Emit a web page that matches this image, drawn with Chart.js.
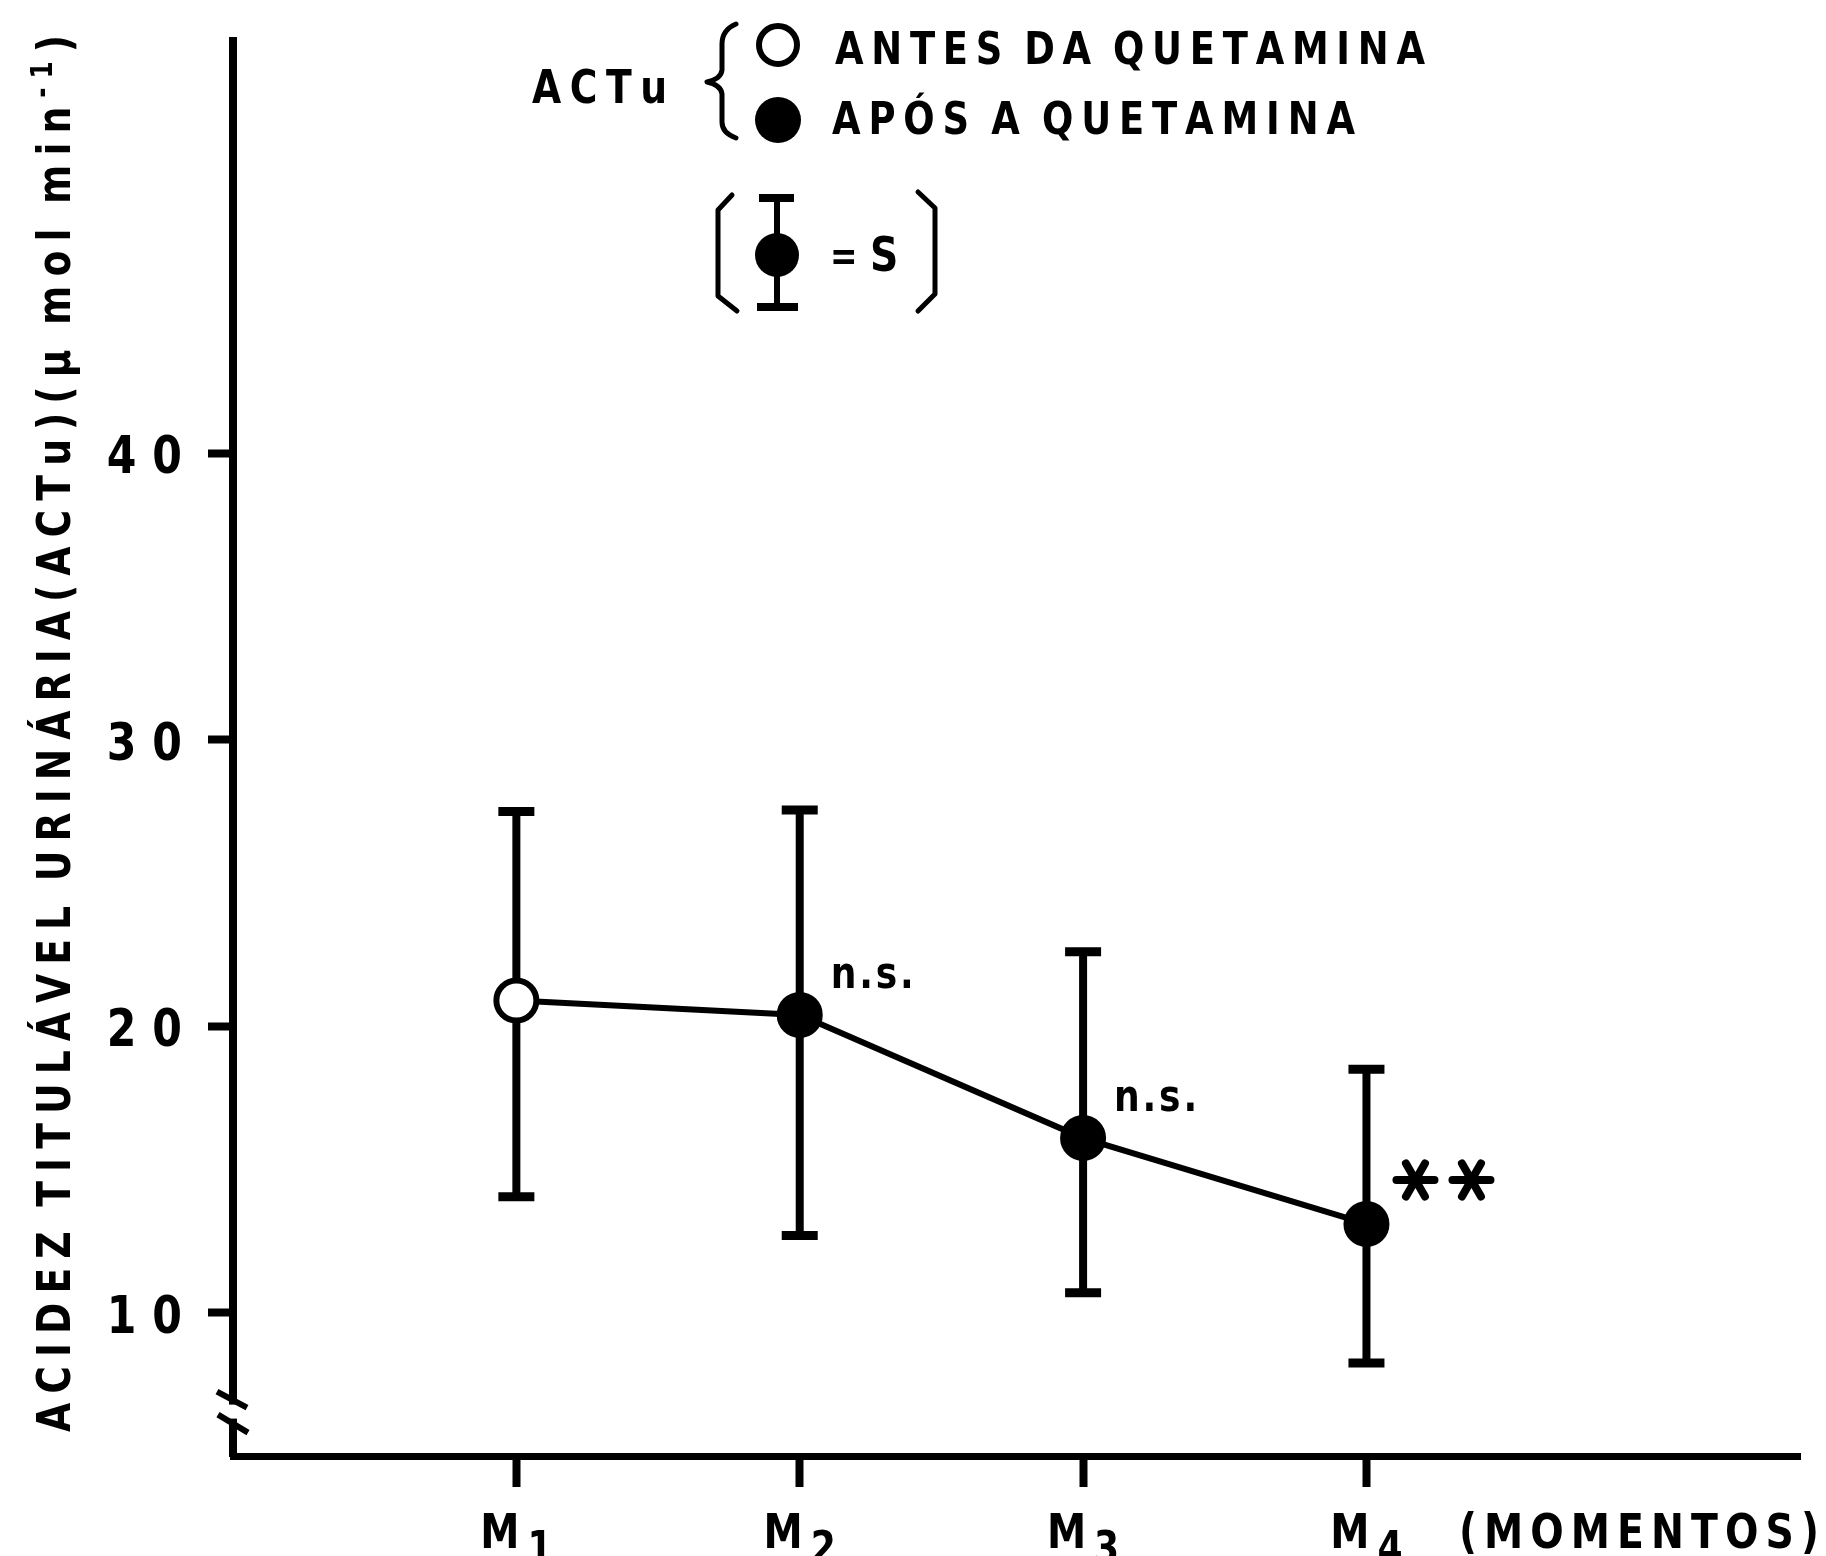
<!DOCTYPE html>
<html>
<head>
<meta charset="utf-8">
<title>ACTu</title>
<script src="https://cdn.jsdelivr.net/npm/chart.js"></script>
<style>
    html, body { margin: 0; padding: 0; background: #fff; }
    #wrap { width: 1826px; height: 1556px; }
</style>
</head>
<body>
<div id="wrap"><canvas id="actuChart" width="1826" height="1556"></canvas></div>
<script>
// --- data: ACTu (µmol/min) at the four moments ---
const moments = [1, 2, 3, 4];
const momentNumbers = ['1', '2', '3', '4'];
const actuMean = [20.9, 20.4, 16.1, 13.1];
const actuUpper = [27.5, 27.55, 22.6, 18.5];   // top of the S bar
const actuLower = [14.05, 12.7, 10.7, 8.25];   // bottom of the S bar
const afterKetamine = [false, true, true, true];
const notes = ['', 'n.s.', 'n.s.', '**'];
const yTickValues = [10, 20, 30, 40];

const FONT = '"DejaVu Sans", sans-serif';
const NARROW = 0.82;   // horizontal squeeze for the lettering

// draws runs of narrowed text char by char, spread out over a given width
function spacedText(ctx, runs, x, y, width) {
    const chars = [];
    runs.forEach(r => {
        ctx.font = `bold ${r.size}px ${FONT}`;
        const font = ctx.font;
        for (const ch of r.text) {
            let w = ctx.measureText(ch).width * NARROW;
            if (ch === ' ') w *= 0.5;
            chars.push({ ch, font, w, rise: r.rise || 0 });
        }
    });
    const natural = chars.reduce((s, c) => s + c.w, 0);
    const gap = chars.length > 1 ? (width - natural) / (chars.length - 1) : 0;
    let cx = x;
    chars.forEach(c => {
        ctx.save();
        ctx.font = c.font;
        ctx.translate(cx, y - c.rise);
        ctx.scale(NARROW, 1);
        ctx.fillText(c.ch, 0, 0);
        ctx.restore();
        cx += c.w + gap;
    });
}

function narrowWidth(ctx, text, size) {
    ctx.font = `bold ${size}px ${FONT}`;
    return ctx.measureText(text).width * NARROW;
}

function asterisk(ctx, cx, cy, r) {
    ctx.beginPath();
    for (let k = 0; k < 3; k++) {
        const a = k * Math.PI / 3;
        ctx.moveTo(cx - r * Math.cos(a), cy - r * Math.sin(a));
        ctx.lineTo(cx + r * Math.cos(a), cy + r * Math.sin(a));
    }
    ctx.stroke();
}

// S bars, drawn under the points
const errorBars = {
    id: 'errorBars',
    beforeDatasetsDraw(chart) {
        const { ctx, scales: { x, y } } = chart;
        ctx.save();
        ctx.strokeStyle = '#000';
        ctx.lineCap = 'butt';
        moments.forEach((m, i) => {
            const px = x.getPixelForValue(m);
            const top = y.getPixelForValue(actuUpper[i]);
            const bot = y.getPixelForValue(actuLower[i]);
            ctx.lineWidth = 8;
            ctx.beginPath();
            ctx.moveTo(px, top);
            ctx.lineTo(px, bot);
            ctx.stroke();
            ctx.lineWidth = 9;
            ctx.beginPath();
            ctx.moveTo(px - 18, top); ctx.lineTo(px + 18, top);
            ctx.moveTo(px - 18, bot); ctx.lineTo(px + 18, bot);
            ctx.stroke();
        });
        ctx.restore();
    }
};

// axis labels, significance marks, axis break and the key
const decorations = {
    id: 'decorations',
    afterDraw(chart) {
        const { ctx, chartArea, scales: { x, y } } = chart;
        ctx.save();
        ctx.fillStyle = '#000';
        ctx.strokeStyle = '#000';
        ctx.lineJoin = 'round';
        ctx.lineCap = 'round';
        ctx.textBaseline = 'alphabetic';

        // y tick labels, right edge fixed
        yTickValues.forEach(v => {
            const py = y.getPixelForValue(v);
            const txt = String(v);
            const w = [...txt].reduce((s, ch) => s + narrowWidth(ctx, ch, 52), 0) + 16 * (txt.length - 1);
            spacedText(ctx, [{ text: txt, size: 52 }], 182 - w, py + 20, w);
        });

        // x tick labels M with subscript
        moments.forEach((m, i) => {
            const px = x.getPixelForValue(m);
            const mw = narrowWidth(ctx, 'M', 48);
            const dw = narrowWidth(ctx, momentNumbers[i], 44);
            const left = px - (mw + 8 + dw) / 2;
            spacedText(ctx, [{ text: 'M', size: 48 }], left, 1548, mw);
            spacedText(ctx, [{ text: momentNumbers[i], size: 44 }], left + mw + 8, 1563, dw);
        });
        spacedText(ctx, [{ text: '(MOMENTOS)', size: 48 }], 1459, 1548, 360);

        // y axis title, rotated
        ctx.save();
        ctx.translate(70, 1432);
        ctx.rotate(-Math.PI / 2);
        spacedText(ctx, [
            { text: 'ACIDEZ TITULÁVEL URINÁRIA(ACTu)(µ mol min', size: 46 },
            { text: '-1', size: 30, rise: 18 },
            { text: ')', size: 46 }
        ], 0, 0, 1397);
        ctx.restore();

        // significance notes next to the points
        const meta = chart.getDatasetMeta(0);
        notes.forEach((n, i) => {
            if (!n) return;
            const pt = meta.data[i];
            if (n === '**') {
                ctx.lineWidth = 8;
                asterisk(ctx, pt.x + 49, pt.y - 44, 19);
                asterisk(ctx, pt.x + 105, pt.y - 44, 19);
            } else {
                spacedText(ctx, [{ text: n, size: 44 }], pt.x + 31, pt.y - 27, 83);
            }
        });

        // break marks on the y axis
        const bx = chartArea.left;
        const by = y.getPixelForValue(6.55);
        ctx.fillStyle = '#fff';
        ctx.fillRect(bx - 6, by - 7, 12, 14);
        ctx.fillStyle = '#000';
        ctx.lineWidth = 6;
        ctx.lineCap = 'butt';
        ctx.beginPath();
        ctx.moveTo(bx - 16, by - 20); ctx.lineTo(bx + 14, by - 4);
        ctx.moveTo(bx - 15, by + 3); ctx.lineTo(bx + 15, by + 21);
        ctx.stroke();
        ctx.lineCap = 'round';

        // key
        spacedText(ctx, [{ text: 'ACTu', size: 46 }], 532, 103, 135);
        ctx.lineWidth = 5;
        ctx.beginPath();
        ctx.moveTo(736, 24);
        ctx.quadraticCurveTo(722, 30, 722, 44);
        ctx.lineTo(722, 70);
        ctx.quadraticCurveTo(721, 79, 707, 82);
        ctx.quadraticCurveTo(721, 85, 722, 94);
        ctx.lineTo(722, 122);
        ctx.quadraticCurveTo(722, 133, 736, 138);
        ctx.stroke();

        ctx.lineWidth = 6;
        ctx.beginPath();
        ctx.arc(778, 45, 19, 0, Math.PI * 2);
        ctx.stroke();
        ctx.beginPath();
        ctx.arc(778, 120, 23, 0, Math.PI * 2);
        ctx.fill();
        spacedText(ctx, [{ text: 'ANTES DA QUETAMINA', size: 45 }], 835, 64, 590);
        spacedText(ctx, [{ text: 'APÓS A QUETAMINA', size: 45 }], 832, 134, 523);

        // ( I = S )
        ctx.lineWidth = 5;
        ctx.beginPath();
        ctx.moveTo(732, 195); ctx.lineTo(718, 210); ctx.lineTo(718, 296); ctx.lineTo(737, 311);
        ctx.moveTo(918, 192); ctx.lineTo(935, 208); ctx.lineTo(935, 294); ctx.lineTo(918, 311);
        ctx.stroke();
        ctx.lineCap = 'butt';
        ctx.lineWidth = 6;
        ctx.beginPath();
        ctx.moveTo(777, 197); ctx.lineTo(777, 307);
        ctx.stroke();
        ctx.lineWidth = 8;
        ctx.beginPath();
        ctx.moveTo(759, 198); ctx.lineTo(794, 198);
        ctx.moveTo(757, 307); ctx.lineTo(798, 307);
        ctx.stroke();
        ctx.beginPath();
        ctx.arc(777, 255, 22, 0, Math.PI * 2);
        ctx.fill();
        spacedText(ctx, [{ text: '=', size: 40 }], 830, 270, narrowWidth(ctx, '=', 40));
        spacedText(ctx, [{ text: 'S', size: 48 }], 870, 271, narrowWidth(ctx, 'S', 48));

        ctx.restore();
    }
};

const ctx = document.getElementById('actuChart').getContext('2d');
new Chart(ctx, {
    type: 'line',
    data: {
        datasets: [{
            data: moments.map((m, i) => ({ x: m, y: actuMean[i] })),
            borderColor: '#000',
            borderWidth: 6,
            tension: 0,
            fill: false,
            pointRadius: 20,
            pointBorderWidth: 6,
            pointBorderColor: '#000',
            pointBackgroundColor: afterKetamine.map(f => f ? '#000' : '#fff'),
            clip: false
        }]
    },
    options: {
        responsive: false,
        animation: false,
        devicePixelRatio: 1,
        layout: { padding: { top: 41, right: 9, left: 0, bottom: 0 } },
        plugins: {
            legend: { display: false },
            tooltip: { enabled: false }
        },
        scales: {
            x: {
                type: 'linear',
                min: 0,
                max: 5.53,
                afterBuildTicks: s => { s.ticks = moments.map(v => ({ value: v })); },
                afterFit: s => { s.height = 100; },
                ticks: { display: false },
                grid: { drawOnChartArea: false, drawTicks: true, tickLength: 31, tickWidth: 8, tickColor: '#000' },
                border: { display: true, color: '#000', width: 7 }
            },
            y: {
                type: 'linear',
                min: 5,
                max: 54.4,
                afterBuildTicks: s => { s.ticks = yTickValues.map(v => ({ value: v })); },
                afterFit: s => { s.width = 233; },
                ticks: { display: false },
                grid: { drawOnChartArea: false, drawTicks: true, tickLength: 25, tickWidth: 8, tickColor: '#000' },
                border: { display: true, color: '#000', width: 8 }
            }
        }
    },
    plugins: [errorBars, decorations]
});
</script>
</body>
</html>
